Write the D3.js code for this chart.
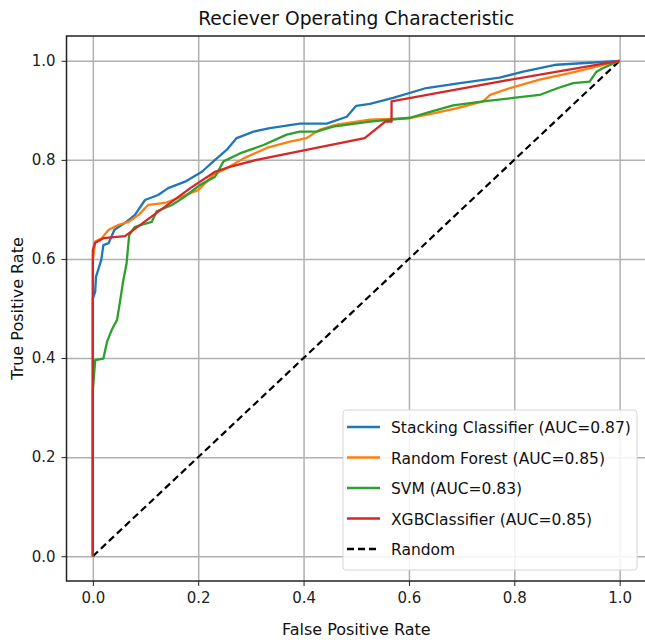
<!DOCTYPE html>
<html>
<head>
<meta charset="utf-8">
<script src="https://cdn.jsdelivr.net/npm/d3@7"></script>
<style>
  body { margin: 0; background: #fff; }
  text { font-family: "DejaVu Sans", sans-serif; }
</style>
</head>
<body>
<script>
// size of the page
var w = 645;
var h = 644;

// ROC points (fpr / tpr)
var stackFpr = [0, 0, 0.0045, 0.006, 0.016, 0.02, 0.03, 0.041, 0.061, 0.08, 0.099, 0.124, 0.143, 0.175, 0.207, 0.232, 0.254, 0.273, 0.305, 0.336, 0.393, 0.444, 0.482, 0.5, 0.526, 0.57, 0.633, 0.697, 0.772, 0.817, 0.88, 0.943, 1];
var stackTpr = [0, 0.52, 0.534, 0.564, 0.598, 0.628, 0.632, 0.659, 0.673, 0.689, 0.719, 0.729, 0.743, 0.756, 0.776, 0.8, 0.82, 0.844, 0.857, 0.864, 0.873, 0.873, 0.887, 0.909, 0.913, 0.925, 0.945, 0.955, 0.966, 0.978, 0.992, 0.996, 1];

var rfFpr = [0, 0, 0.0045, 0.017, 0.03, 0.049, 0.068, 0.087, 0.105, 0.137, 0.169, 0.2, 0.229, 0.254, 0.286, 0.33, 0.374, 0.406, 0.431, 0.463, 0.526, 0.602, 0.646, 0.69, 0.741, 0.754, 0.792, 0.848, 0.905, 0.956, 1];
var rfTpr = [0, 0.598, 0.635, 0.642, 0.659, 0.669, 0.675, 0.689, 0.709, 0.713, 0.726, 0.739, 0.77, 0.783, 0.803, 0.824, 0.837, 0.844, 0.861, 0.871, 0.881, 0.884, 0.894, 0.904, 0.918, 0.931, 0.945, 0.962, 0.975, 0.988, 1];

var svmFpr = [0, 0, 0.0045, 0.02, 0.027, 0.036, 0.046, 0.052, 0.058, 0.064, 0.069, 0.08, 0.112, 0.121, 0.15, 0.175, 0.203, 0.232, 0.248, 0.279, 0.324, 0.368, 0.393, 0.425, 0.456, 0.526, 0.602, 0.64, 0.684, 0.741, 0.798, 0.848, 0.883, 0.912, 0.943, 0.956, 0.968, 1];
var svmTpr = [0, 0.335, 0.396, 0.399, 0.433, 0.457, 0.477, 0.517, 0.558, 0.591, 0.648, 0.665, 0.675, 0.696, 0.709, 0.726, 0.749, 0.766, 0.797, 0.813, 0.83, 0.851, 0.857, 0.857, 0.867, 0.877, 0.885, 0.897, 0.91, 0.918, 0.925, 0.931, 0.945, 0.955, 0.958, 0.978, 0.985, 1];

var xgbFpr = [0, 0, 0.004, 0.02, 0.061, 0.185, 0.232, 0.26, 0.311, 0.516, 0.555, 0.567, 0.567, 0.772, 1];
var xgbTpr = [0, 0.618, 0.632, 0.642, 0.646, 0.743, 0.776, 0.786, 0.8, 0.844, 0.877, 0.877, 0.918, 0.958, 1];

var seriesNames = ["Stacking Classifier (AUC=0.87)", "Random Forest (AUC=0.85)", "SVM (AUC=0.83)", "XGBClassifier (AUC=0.85)"];
var seriesColors = ["#1f77b4", "#ff7f0e", "#2ca02c", "#d62728"];
var ticks = [0, 0.2, 0.4, 0.6, 0.8, 1.0];

var series = [
  d3.zip(stackFpr, stackTpr),
  d3.zip(rfFpr, rfTpr),
  d3.zip(svmFpr, svmTpr),
  d3.zip(xgbFpr, xgbTpr)
];

// plot box
var pLeft = 66.5, pRight = 646, pTop = 36, pBottom = 581;

var x = d3.scaleLinear().domain([-0.05, 1.05]).range([pLeft, pRight]);
var y = d3.scaleLinear().domain([-0.05, 1.05]).range([pBottom, pTop]);

var svg = d3.select("body")
            .append("svg")
            .attr("width", w)
            .attr("height", h);

// grid
svg.append("g")
   .attr("transform", "translate(0," + pBottom + ")")
   .call(d3.axisBottom(x).tickValues(ticks).tickSize(-(pBottom - pTop)).tickFormat(""))
   .call(function(g){ g.select(".domain").remove(); })
   .selectAll("line").attr("stroke", "#b0b0b0").attr("stroke-width", 1.5);

svg.append("g")
   .attr("transform", "translate(" + pLeft + ",0)")
   .call(d3.axisLeft(y).tickValues(ticks).tickSize(-(pRight - pLeft)).tickFormat(""))
   .call(function(g){ g.select(".domain").remove(); })
   .selectAll("line").attr("stroke", "#b0b0b0").attr("stroke-width", 1.5);

// diagonal
var line = d3.line()
    .x(function(d){ return x(d[0]); })
    .y(function(d){ return y(d[1]); });

svg.append("path")
   .datum([[0, 0], [1, 1]])
   .attr("d", line)
   .attr("fill", "none")
   .attr("stroke", "#000")
   .attr("stroke-width", 2.2)
   .attr("stroke-dasharray", "7,4");

// curves
svg.selectAll(".roc")
   .data(series)
   .enter()
   .append("path")
   .attr("class", "roc")
   .attr("d", line)
   .attr("fill", "none")
   .attr("stroke", function(d, i){ return seriesColors[i]; })
   .attr("stroke-width", 2.3)
   .attr("stroke-linejoin", "round");

// axes
var xAxis = svg.append("g")
   .attr("transform", "translate(0," + pBottom + ")")
   .call(d3.axisBottom(x).tickValues(ticks).tickSize(5).tickPadding(6).tickFormat(d3.format(".1f")));
var yAxis = svg.append("g")
   .attr("transform", "translate(" + pLeft + ",0)")
   .call(d3.axisLeft(y).tickValues(ticks).tickSize(5).tickPadding(6).tickFormat(d3.format(".1f")));

[xAxis, yAxis].forEach(function(g){
  g.selectAll("text").style("font-size", "15px").attr("fill", "#222");
  g.selectAll("line").attr("stroke", "#222");
  g.select(".domain").remove();
});

// frame (right side runs off the page)
svg.append("rect")
   .attr("x", pLeft)
   .attr("y", pTop)
   .attr("width", pRight - pLeft)
   .attr("height", pBottom - pTop)
   .attr("fill", "none")
   .attr("stroke", "#222")
   .attr("stroke-width", 1.5);

// titles
svg.append("text")
   .text("Reciever Operating Characteristic")
   .attr("x", (pLeft + pRight) / 2)
   .attr("y", 25)
   .attr("text-anchor", "middle")
   .style("font-size", "18.7px")
   .attr("fill", "#111");

svg.append("text")
   .text("False Positive Rate")
   .attr("x", (pLeft + pRight) / 2)
   .attr("y", 635)
   .attr("text-anchor", "middle")
   .style("font-size", "16px")
   .attr("fill", "#111");

svg.append("text")
   .text("True Positive Rate")
   .attr("transform", "translate(23," + (pTop + pBottom) / 2 + ") rotate(-90)")
   .attr("text-anchor", "middle")
   .style("font-size", "16px")
   .attr("fill", "#111");

// legend
var legend = svg.append("g");
legend.append("rect")
   .attr("x", 343)
   .attr("y", 410)
   .attr("width", 294)
   .attr("height", 160)
   .attr("rx", 3)
   .attr("fill", "rgba(255,255,255,0.85)")
   .attr("stroke", "#d5d5d5");

var legendNames = seriesNames.concat(["Random"]);
var legendColors = seriesColors.concat(["#000"]);

legend.selectAll(".item")
   .data(legendNames)
   .enter()
   .append("line")
   .attr("x1", 347)
   .attr("x2", 380)
   .attr("y1", function(d, i){ return 427 + i * 30.5; })
   .attr("y2", function(d, i){ return 427 + i * 30.5; })
   .attr("stroke", function(d, i){ return legendColors[i]; })
   .attr("stroke-width", 2.3)
   .attr("stroke-dasharray", function(d, i){ return i == 4 ? "7,4" : null; });

legend.selectAll("text")
   .data(legendNames)
   .enter()
   .append("text")
   .text(function(d){ return d; })
   .attr("x", 391)
   .attr("y", function(d, i){ return 433 + i * 30.5; })
   .style("font-size", "15.5px")
   .attr("fill", "#111");
</script>
</body>
</html>
